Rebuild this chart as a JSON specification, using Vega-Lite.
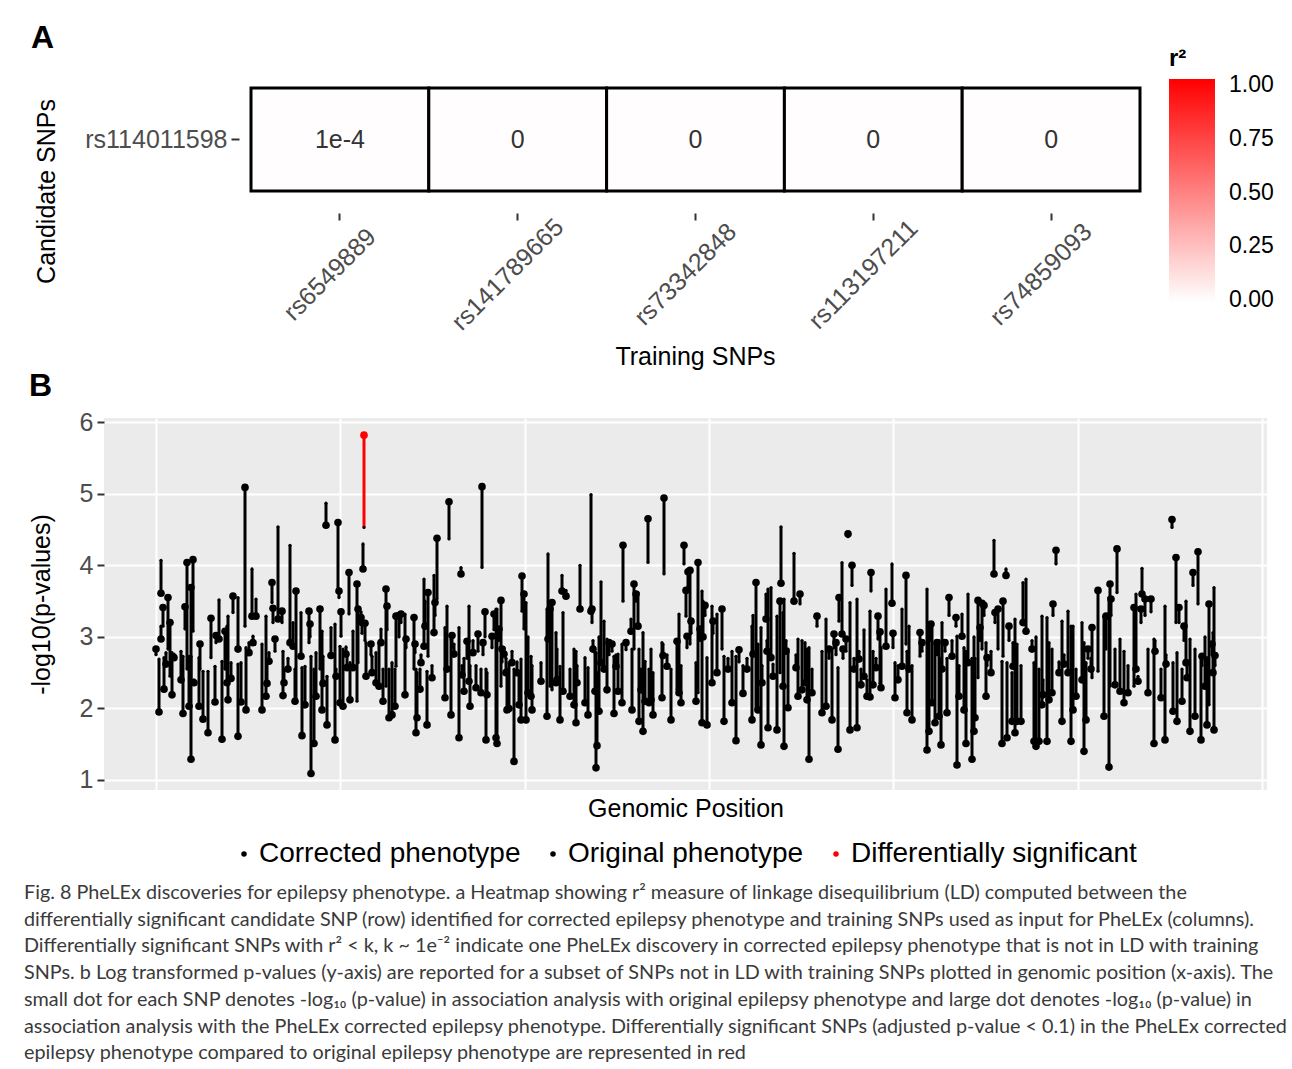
{
  "$schema": "https://vega.github.io/schema/vega-lite/v6.json",
  "background": "white",
  "padding": {"left": 24, "top": 22, "right": 5, "bottom": 0},
  "config": {
    "view": {"stroke": null},
    "font": "Liberation Sans",
    "axis": {"labelFont": "Liberation Sans", "titleFont": "Liberation Sans"},
    "legend": {"labelFont": "Liberation Sans", "titleFont": "Liberation Sans"}
  },
  "spacing": 0,
  "title": {
    "text": [
      "Fig. 8 PheLEx discoveries for epilepsy phenotype. a Heatmap showing r² measure of linkage disequilibrium (LD) computed between the",
      "differentially significant candidate SNP (row) identified for corrected epilepsy phenotype and training SNPs used as input for PheLEx (columns).",
      "Differentially significant SNPs with r² < k, k ~ 1e⁻² indicate one PheLEx discovery in corrected epilepsy phenotype that is not in LD with training",
      "SNPs. b Log transformed p-values (y-axis) are reported for a subset of SNPs not in LD with training SNPs plotted in genomic position (x-axis). The",
      "small dot for each SNP denotes -log₁₀ (p-value) in association analysis with original epilepsy phenotype and large dot denotes -log₁₀ (p-value) in",
      "association analysis with the PheLEx corrected epilepsy phenotype. Differentially significant SNPs (adjusted p-value < 0.1) in the PheLEx corrected",
      "epilepsy phenotype compared to original epilepsy phenotype are represented in red"
    ],
    "orient": "bottom",
    "anchor": "start",
    "frame": "bounds",
    "dx": -5,
    "offset": 15,
    "font": "Lato",
    "fontSize": 19.8,
    "fontWeight": "normal",
    "color": "#3a3a3a",
    "lineHeight": 26.7
  },
  "vconcat": [
    {
      "width": 1036,
      "height": 103,
      "title": {"text": "A", "anchor": "start", "frame": "group", "dx": -73, "offset": -8, "fontSize": 32, "fontWeight": "bold", "color": "black", "font": "Liberation Sans"},
      "data": {"values": [
        {"candidate": "rs114011598", "training": "rs6549889", "r2": 0.0001, "label": "1e-4"},
        {"candidate": "rs114011598", "training": "rs141789665", "r2": 0, "label": "0"},
        {"candidate": "rs114011598", "training": "rs73342848", "r2": 0, "label": "0"},
        {"candidate": "rs114011598", "training": "rs113197211", "r2": 0, "label": "0"},
        {"candidate": "rs114011598", "training": "rs74859093", "r2": 0, "label": "0"}
      ]},
      "encoding": {
        "x": {"field": "training", "type": "nominal", "sort": null,
          "scale": {"paddingInner": 0, "paddingOuter": 0.4134, "align": 1},
          "axis": {"title": "Training SNPs", "titleFontSize": 25, "titleFontWeight": "normal", "titleColor": "black", "titlePadding": 10, "titleX": 591,
            "labelAngle": -45, "labelAlign": "center", "labelBaseline": "middle", "labelFontSize": 25, "labelColor": "#4D4D4D", "labelPadding": 54, "labelOffset": -10,
            "offset": 22, "tickSize": 7, "tickWidth": 2, "tickColor": "#333333", "domain": false, "grid": false}},
        "y": {"field": "candidate", "type": "nominal",
          "scale": {"paddingInner": 0, "paddingOuter": 0},
          "axis": {"title": "Candidate SNPs", "titleFontSize": 25, "titleFontWeight": "normal", "titleColor": "black", "titlePadding": 25, "titleY": 103,
            "labelFontSize": 25, "labelColor": "#4D4D4D", "labelPadding": 4,
            "offset": -135, "tickSize": 8, "tickWidth": 2, "tickColor": "#333333", "domain": false, "grid": false}}
      },
      "layer": [
        {
          "mark": {"type": "rect", "stroke": "black", "strokeWidth": 3},
          "encoding": {
            "color": {"field": "r2", "type": "quantitative",
              "scale": {"domain": [-0.01, 1.03], "range": ["#FFFFFF", "#FF0000"], "interpolate": "rgb"},
              "legend": {"title": "r²", "orient": "none", "legendX": 1065, "legendY": -41, "direction": "vertical",
                "gradientLength": 223, "gradientThickness": 46, "gradientStrokeWidth": 0,
                "titleFontSize": 24, "titleFontWeight": "bold", "titleColor": "black", "titlePadding": 8, "titleAnchor": "start",
                "values": [0, 0.25, 0.5, 0.75, 1], "format": ".2f",
                "labelFontSize": 23, "labelColor": "black", "labelOffset": 14}}
          }
        },
        {
          "mark": {"type": "text", "fontSize": 25, "color": "#333333", "font": "Liberation Sans"},
          "encoding": {"text": {"field": "label"}}
        }
      ]
    },
    {
      "width": 1163,
      "height": 372,
      "view": {"fill": "#EBEBEB", "stroke": null},
      "title": {"text": "B", "anchor": "start", "frame": "group", "dx": -75, "offset": 7, "fontSize": 32, "fontWeight": "bold", "color": "black", "font": "Liberation Sans"},
      "data": {"values": [
{"pos":157,"orig":2.75,"corr":2.83,"type":"Corrected phenotype"},
{"pos":160,"orig":2.69,"corr":1.95,"type":"Corrected phenotype"},
{"pos":162,"orig":4.07,"corr":3.61,"type":"Corrected phenotype"},
{"pos":162,"orig":3.15,"corr":2.97,"type":"Corrected phenotype"},
{"pos":164,"orig":3.15,"corr":3.41,"type":"Corrected phenotype"},
{"pos":165,"orig":2.71,"corr":2.27,"type":"Corrected phenotype"},
{"pos":167,"orig":2.78,"corr":2.62,"type":"Corrected phenotype"},
{"pos":169,"orig":2.83,"corr":3.55,"type":"Corrected phenotype"},
{"pos":171,"orig":2.45,"corr":3.2,"type":"Corrected phenotype"},
{"pos":173,"orig":2.78,"corr":2.19,"type":"Corrected phenotype"},
{"pos":175,"orig":2.76,"corr":2.71,"type":"Corrected phenotype"},
{"pos":182,"orig":2.8,"corr":2.4,"type":"Corrected phenotype"},
{"pos":184,"orig":2.73,"corr":1.93,"type":"Corrected phenotype"},
{"pos":186,"orig":3.11,"corr":3.42,"type":"Corrected phenotype"},
{"pos":188,"orig":2.55,"corr":4.04,"type":"Corrected phenotype"},
{"pos":190,"orig":2.73,"corr":2.03,"type":"Corrected phenotype"},
{"pos":192,"orig":2.73,"corr":1.29,"type":"Corrected phenotype"},
{"pos":192,"orig":2.4,"corr":3.69,"type":"Corrected phenotype"},
{"pos":194,"orig":3.08,"corr":4.08,"type":"Corrected phenotype"},
{"pos":195,"orig":2.4,"corr":2.36,"type":"Corrected phenotype"},
{"pos":200,"orig":2.71,"corr":2.03,"type":"Corrected phenotype"},
{"pos":201,"orig":2.55,"corr":2.9,"type":"Corrected phenotype"},
{"pos":204,"orig":2.52,"corr":1.85,"type":"Corrected phenotype"},
{"pos":209,"orig":2.52,"corr":1.66,"type":"Corrected phenotype"},
{"pos":212,"orig":2.71,"corr":3.26,"type":"Corrected phenotype"},
{"pos":216,"orig":2.59,"corr":2.09,"type":"Corrected phenotype"},
{"pos":217,"orig":2.92,"corr":3.02,"type":"Corrected phenotype"},
{"pos":220,"orig":3.52,"corr":2.97,"type":"Corrected phenotype"},
{"pos":223,"orig":2.66,"corr":1.57,"type":"Corrected phenotype"},
{"pos":226,"orig":2.55,"corr":3.08,"type":"Corrected phenotype"},
{"pos":228,"orig":3.15,"corr":2.36,"type":"Corrected phenotype"},
{"pos":229,"orig":3.29,"corr":2.12,"type":"Corrected phenotype"},
{"pos":232,"orig":2.64,"corr":2.42,"type":"Corrected phenotype"},
{"pos":234,"orig":3.34,"corr":3.57,"type":"Corrected phenotype"},
{"pos":239,"orig":2.62,"corr":1.61,"type":"Corrected phenotype"},
{"pos":239,"orig":3.55,"corr":2.83,"type":"Corrected phenotype"},
{"pos":242,"orig":2.64,"corr":2.09,"type":"Corrected phenotype"},
{"pos":246,"orig":3.15,"corr":5.09,"type":"Corrected phenotype"},
{"pos":247,"orig":2.85,"corr":1.98,"type":"Corrected phenotype"},
{"pos":250,"orig":2.92,"corr":2.78,"type":"Corrected phenotype"},
{"pos":253,"orig":3.95,"corr":3.29,"type":"Corrected phenotype"},
{"pos":254,"orig":3.01,"corr":2.92,"type":"Corrected phenotype"},
{"pos":257,"orig":3.53,"corr":3.29,"type":"Corrected phenotype"},
{"pos":263,"orig":2.9,"corr":1.98,"type":"Corrected phenotype"},
{"pos":267,"orig":3.29,"corr":2.17,"type":"Corrected phenotype"},
{"pos":268,"orig":2.64,"corr":2.35,"type":"Corrected phenotype"},
{"pos":270,"orig":2.78,"corr":2.66,"type":"Corrected phenotype"},
{"pos":273,"orig":3.48,"corr":3.76,"type":"Corrected phenotype"},
{"pos":274,"orig":3.2,"corr":3.4,"type":"Corrected phenotype"},
{"pos":276,"orig":2.8,"corr":2.97,"type":"Corrected phenotype"},
{"pos":279,"orig":4.54,"corr":3.25,"type":"Corrected phenotype"},
{"pos":283,"orig":3.2,"corr":3.36,"type":"Corrected phenotype"},
{"pos":284,"orig":2.8,"corr":2.18,"type":"Corrected phenotype"},
{"pos":285,"orig":2.55,"corr":2.36,"type":"Corrected phenotype"},
{"pos":289,"orig":2.7,"corr":2.55,"type":"Corrected phenotype"},
{"pos":291,"orig":4.28,"corr":2.92,"type":"Corrected phenotype"},
{"pos":294,"orig":3.2,"corr":2.87,"type":"Corrected phenotype"},
{"pos":296,"orig":2.55,"corr":2.1,"type":"Corrected phenotype"},
{"pos":297,"orig":2.12,"corr":3.64,"type":"Corrected phenotype"},
{"pos":302,"orig":3.34,"corr":2.73,"type":"Corrected phenotype"},
{"pos":303,"orig":2.57,"corr":1.62,"type":"Corrected phenotype"},
{"pos":306,"orig":2.59,"corr":2.05,"type":"Corrected phenotype"},
{"pos":310,"orig":2.92,"corr":3.36,"type":"Corrected phenotype"},
{"pos":311,"orig":3.0,"corr":3.18,"type":"Corrected phenotype"},
{"pos":312,"orig":2.73,"corr":1.09,"type":"Corrected phenotype"},
{"pos":315,"orig":2.55,"corr":1.51,"type":"Corrected phenotype"},
{"pos":317,"orig":2.78,"corr":2.17,"type":"Corrected phenotype"},
{"pos":321,"orig":2.55,"corr":3.39,"type":"Corrected phenotype"},
{"pos":323,"orig":3.08,"corr":1.98,"type":"Corrected phenotype"},
{"pos":324,"orig":2.73,"corr":2.35,"type":"Corrected phenotype"},
{"pos":327,"orig":4.87,"corr":4.56,"type":"Corrected phenotype"},
{"pos":328,"orig":2.45,"corr":1.77,"type":"Corrected phenotype"},
{"pos":332,"orig":3.13,"corr":2.74,"type":"Corrected phenotype"},
{"pos":336,"orig":3.18,"corr":1.56,"type":"Corrected phenotype"},
{"pos":337,"orig":2.55,"corr":2.45,"type":"Corrected phenotype"},
{"pos":339,"orig":3.65,"corr":4.6,"type":"Corrected phenotype"},
{"pos":340,"orig":3.55,"corr":3.64,"type":"Corrected phenotype"},
{"pos":341,"orig":2.87,"corr":2.08,"type":"Corrected phenotype"},
{"pos":342,"orig":3.01,"corr":3.35,"type":"Corrected phenotype"},
{"pos":344,"orig":2.83,"corr":2.03,"type":"Corrected phenotype"},
{"pos":347,"orig":2.86,"corr":2.76,"type":"Corrected phenotype"},
{"pos":348,"orig":2.73,"corr":2.57,"type":"Corrected phenotype"},
{"pos":350,"orig":3.32,"corr":3.9,"type":"Corrected phenotype"},
{"pos":351,"orig":2.64,"corr":2.12,"type":"Corrected phenotype"},
{"pos":354,"orig":3.08,"corr":2.57,"type":"Corrected phenotype"},
{"pos":358,"orig":2.1,"corr":3.74,"type":"Corrected phenotype"},
{"pos":359,"orig":2.64,"corr":3.39,"type":"Corrected phenotype"},
{"pos":362,"orig":3.35,"corr":3.27,"type":"Corrected phenotype"},
{"pos":363,"orig":3.05,"corr":3.2,"type":"Corrected phenotype"},
{"pos":364,"orig":4.3,"corr":3.95,"type":"Corrected phenotype"},
{"pos":365,"orig":4.53,"corr":5.82,"type":"Differentially significant"},
{"pos":366,"orig":2.95,"corr":3.19,"type":"Corrected phenotype"},
{"pos":367,"orig":2.92,"corr":2.45,"type":"Corrected phenotype"},
{"pos":372,"orig":2.75,"corr":2.9,"type":"Corrected phenotype"},
{"pos":373,"orig":2.73,"corr":2.5,"type":"Corrected phenotype"},
{"pos":377,"orig":2.78,"corr":2.36,"type":"Corrected phenotype"},
{"pos":380,"orig":2.92,"corr":2.31,"type":"Corrected phenotype"},
{"pos":382,"orig":3.11,"corr":2.92,"type":"Corrected phenotype"},
{"pos":384,"orig":2.55,"corr":2.1,"type":"Corrected phenotype"},
{"pos":387,"orig":2.31,"corr":3.67,"type":"Corrected phenotype"},
{"pos":388,"orig":3.1,"corr":3.43,"type":"Corrected phenotype"},
{"pos":390,"orig":2.55,"corr":1.87,"type":"Corrected phenotype"},
{"pos":393,"orig":2.64,"corr":1.91,"type":"Corrected phenotype"},
{"pos":396,"orig":2.55,"corr":2.03,"type":"Corrected phenotype"},
{"pos":397,"orig":2.59,"corr":3.29,"type":"Corrected phenotype"},
{"pos":400,"orig":3.0,"corr":3.3,"type":"Corrected phenotype"},
{"pos":402,"orig":3.2,"corr":3.32,"type":"Corrected phenotype"},
{"pos":406,"orig":3.32,"corr":2.19,"type":"Corrected phenotype"},
{"pos":407,"orig":2.85,"corr":2.97,"type":"Corrected phenotype"},
{"pos":415,"orig":2.55,"corr":3.27,"type":"Corrected phenotype"},
{"pos":416,"orig":2.78,"corr":2.9,"type":"Corrected phenotype"},
{"pos":417,"orig":2.55,"corr":1.66,"type":"Corrected phenotype"},
{"pos":418,"orig":2.5,"corr":1.87,"type":"Corrected phenotype"},
{"pos":421,"orig":2.55,"corr":2.27,"type":"Corrected phenotype"},
{"pos":422,"orig":2.75,"corr":2.64,"type":"Corrected phenotype"},
{"pos":425,"orig":3.81,"corr":2.87,"type":"Corrected phenotype"},
{"pos":426,"orig":3.5,"corr":3.15,"type":"Corrected phenotype"},
{"pos":428,"orig":2.52,"corr":1.77,"type":"Corrected phenotype"},
{"pos":429,"orig":2.73,"corr":3.62,"type":"Corrected phenotype"},
{"pos":433,"orig":2.6,"corr":2.43,"type":"Corrected phenotype"},
{"pos":435,"orig":3.86,"corr":3.06,"type":"Corrected phenotype"},
{"pos":436,"orig":3.3,"corr":3.48,"type":"Corrected phenotype"},
{"pos":438,"orig":3.53,"corr":4.38,"type":"Corrected phenotype"},
{"pos":446,"orig":3.13,"corr":2.15,"type":"Corrected phenotype"},
{"pos":448,"orig":3.43,"corr":2.55,"type":"Corrected phenotype"},
{"pos":450,"orig":4.37,"corr":4.89,"type":"Corrected phenotype"},
{"pos":452,"orig":2.97,"corr":1.91,"type":"Corrected phenotype"},
{"pos":453,"orig":2.85,"corr":3.02,"type":"Corrected phenotype"},
{"pos":455,"orig":2.9,"corr":2.76,"type":"Corrected phenotype"},
{"pos":460,"orig":3.13,"corr":1.59,"type":"Corrected phenotype"},
{"pos":462,"orig":3.97,"corr":3.88,"type":"Corrected phenotype"},
{"pos":463,"orig":2.6,"corr":2.47,"type":"Corrected phenotype"},
{"pos":465,"orig":2.7,"corr":2.24,"type":"Corrected phenotype"},
{"pos":468,"orig":2.7,"corr":2.94,"type":"Corrected phenotype"},
{"pos":470,"orig":3.43,"corr":2.38,"type":"Corrected phenotype"},
{"pos":471,"orig":2.6,"corr":2.03,"type":"Corrected phenotype"},
{"pos":474,"orig":2.95,"corr":2.78,"type":"Corrected phenotype"},
{"pos":477,"orig":2.6,"corr":2.29,"type":"Corrected phenotype"},
{"pos":479,"orig":2.8,"corr":3.04,"type":"Corrected phenotype"},
{"pos":482,"orig":2.55,"corr":2.22,"type":"Corrected phenotype"},
{"pos":483,"orig":3.97,"corr":5.1,"type":"Corrected phenotype"},
{"pos":484,"orig":2.75,"corr":2.92,"type":"Corrected phenotype"},
{"pos":486,"orig":3.0,"corr":3.35,"type":"Corrected phenotype"},
{"pos":487,"orig":2.55,"corr":1.56,"type":"Corrected phenotype"},
{"pos":488,"orig":2.5,"corr":2.19,"type":"Corrected phenotype"},
{"pos":493,"orig":2.85,"corr":3.01,"type":"Corrected phenotype"},
{"pos":495,"orig":3.1,"corr":3.32,"type":"Corrected phenotype"},
{"pos":497,"orig":3.39,"corr":1.59,"type":"Corrected phenotype"},
{"pos":498,"orig":3.39,"corr":1.51,"type":"Corrected phenotype"},
{"pos":500,"orig":2.95,"corr":3.11,"type":"Corrected phenotype"},
{"pos":502,"orig":2.31,"corr":3.51,"type":"Corrected phenotype"},
{"pos":503,"orig":2.65,"corr":2.83,"type":"Corrected phenotype"},
{"pos":505,"orig":2.85,"corr":2.76,"type":"Corrected phenotype"},
{"pos":507,"orig":2.7,"corr":2.5,"type":"Corrected phenotype"},
{"pos":508,"orig":2.55,"corr":1.98,"type":"Corrected phenotype"},
{"pos":510,"orig":2.64,"corr":2.0,"type":"Corrected phenotype"},
{"pos":513,"orig":2.8,"corr":2.64,"type":"Corrected phenotype"},
{"pos":515,"orig":2.55,"corr":1.26,"type":"Corrected phenotype"},
{"pos":518,"orig":2.65,"corr":2.5,"type":"Corrected phenotype"},
{"pos":520,"orig":2.5,"corr":2.05,"type":"Corrected phenotype"},
{"pos":522,"orig":2.69,"corr":1.84,"type":"Corrected phenotype"},
{"pos":523,"orig":3.36,"corr":3.85,"type":"Corrected phenotype"},
{"pos":525,"orig":3.11,"corr":3.6,"type":"Corrected phenotype"},
{"pos":527,"orig":3.48,"corr":1.84,"type":"Corrected phenotype"},
{"pos":529,"orig":3.0,"corr":2.22,"type":"Corrected phenotype"},
{"pos":532,"orig":2.73,"corr":2.17,"type":"Corrected phenotype"},
{"pos":533,"orig":2.6,"corr":1.98,"type":"Corrected phenotype"},
{"pos":542,"orig":2.64,"corr":2.38,"type":"Corrected phenotype"},
{"pos":548,"orig":3.39,"corr":1.89,"type":"Corrected phenotype"},
{"pos":549,"orig":4.16,"corr":2.97,"type":"Corrected phenotype"},
{"pos":551,"orig":2.31,"corr":3.39,"type":"Corrected phenotype"},
{"pos":553,"orig":2.26,"corr":3.48,"type":"Corrected phenotype"},
{"pos":557,"orig":3.06,"corr":2.36,"type":"Corrected phenotype"},
{"pos":558,"orig":2.83,"corr":2.4,"type":"Corrected phenotype"},
{"pos":561,"orig":2.59,"corr":1.84,"type":"Corrected phenotype"},
{"pos":563,"orig":3.86,"corr":3.64,"type":"Corrected phenotype"},
{"pos":564,"orig":3.34,"corr":2.24,"type":"Corrected phenotype"},
{"pos":567,"orig":3.65,"corr":3.57,"type":"Corrected phenotype"},
{"pos":571,"orig":2.55,"corr":2.17,"type":"Corrected phenotype"},
{"pos":575,"orig":2.83,"corr":2.05,"type":"Corrected phenotype"},
{"pos":577,"orig":2.8,"corr":1.8,"type":"Corrected phenotype"},
{"pos":578,"orig":2.6,"corr":2.36,"type":"Corrected phenotype"},
{"pos":581,"orig":4.0,"corr":3.39,"type":"Corrected phenotype"},
{"pos":586,"orig":2.71,"corr":2.08,"type":"Corrected phenotype"},
{"pos":589,"orig":2.57,"corr":1.91,"type":"Corrected phenotype"},
{"pos":592,"orig":4.99,"corr":3.36,"type":"Corrected phenotype"},
{"pos":593,"orig":3.2,"corr":3.39,"type":"Corrected phenotype"},
{"pos":594,"orig":2.95,"corr":2.83,"type":"Corrected phenotype"},
{"pos":596,"orig":2.78,"corr":2.24,"type":"Corrected phenotype"},
{"pos":597,"orig":2.78,"corr":1.17,"type":"Corrected phenotype"},
{"pos":598,"orig":2.5,"corr":1.48,"type":"Corrected phenotype"},
{"pos":600,"orig":3.0,"corr":1.96,"type":"Corrected phenotype"},
{"pos":602,"orig":3.77,"corr":2.64,"type":"Corrected phenotype"},
{"pos":605,"orig":3.22,"corr":2.55,"type":"Corrected phenotype"},
{"pos":608,"orig":2.97,"corr":2.26,"type":"Corrected phenotype"},
{"pos":610,"orig":2.75,"corr":2.92,"type":"Corrected phenotype"},
{"pos":613,"orig":2.8,"corr":2.9,"type":"Corrected phenotype"},
{"pos":615,"orig":2.73,"corr":1.93,"type":"Corrected phenotype"},
{"pos":617,"orig":2.75,"corr":2.59,"type":"Corrected phenotype"},
{"pos":619,"orig":2.76,"corr":2.24,"type":"Corrected phenotype"},
{"pos":623,"orig":2.9,"corr":2.08,"type":"Corrected phenotype"},
{"pos":624,"orig":3.5,"corr":4.28,"type":"Corrected phenotype"},
{"pos":627,"orig":2.82,"corr":2.92,"type":"Corrected phenotype"},
{"pos":632,"orig":3.25,"corr":3.08,"type":"Corrected phenotype"},
{"pos":633,"orig":2.83,"corr":1.98,"type":"Corrected phenotype"},
{"pos":635,"orig":2.83,"corr":3.74,"type":"Corrected phenotype"},
{"pos":637,"orig":3.5,"corr":3.6,"type":"Corrected phenotype"},
{"pos":639,"orig":3.62,"corr":3.15,"type":"Corrected phenotype"},
{"pos":640,"orig":2.83,"corr":1.82,"type":"Corrected phenotype"},
{"pos":642,"orig":2.55,"corr":2.26,"type":"Corrected phenotype"},
{"pos":644,"orig":3.06,"corr":1.68,"type":"Corrected phenotype"},
{"pos":646,"orig":2.66,"corr":2.1,"type":"Corrected phenotype"},
{"pos":649,"orig":4.04,"corr":4.65,"type":"Corrected phenotype"},
{"pos":650,"orig":2.55,"corr":2.08,"type":"Corrected phenotype"},
{"pos":652,"orig":2.83,"corr":2.12,"type":"Corrected phenotype"},
{"pos":654,"orig":2.5,"corr":1.91,"type":"Corrected phenotype"},
{"pos":663,"orig":2.92,"corr":2.15,"type":"Corrected phenotype"},
{"pos":664,"orig":2.9,"corr":2.74,"type":"Corrected phenotype"},
{"pos":665,"orig":3.88,"corr":4.94,"type":"Corrected phenotype"},
{"pos":668,"orig":2.75,"corr":2.59,"type":"Corrected phenotype"},
{"pos":672,"orig":2.55,"corr":1.84,"type":"Corrected phenotype"},
{"pos":678,"orig":2.26,"corr":2.94,"type":"Corrected phenotype"},
{"pos":680,"orig":3.32,"corr":2.22,"type":"Corrected phenotype"},
{"pos":682,"orig":2.6,"corr":2.08,"type":"Corrected phenotype"},
{"pos":685,"orig":4.02,"corr":4.28,"type":"Corrected phenotype"},
{"pos":687,"orig":3.29,"corr":3.65,"type":"Corrected phenotype"},
{"pos":688,"orig":2.85,"corr":3.01,"type":"Corrected phenotype"},
{"pos":689,"orig":3.7,"corr":3.91,"type":"Corrected phenotype"},
{"pos":691,"orig":2.9,"corr":3.93,"type":"Corrected phenotype"},
{"pos":692,"orig":3.05,"corr":3.22,"type":"Corrected phenotype"},
{"pos":697,"orig":2.64,"corr":2.1,"type":"Corrected phenotype"},
{"pos":699,"orig":2.22,"corr":4.04,"type":"Corrected phenotype"},
{"pos":701,"orig":2.95,"corr":3.11,"type":"Corrected phenotype"},
{"pos":703,"orig":3.64,"corr":1.8,"type":"Corrected phenotype"},
{"pos":704,"orig":3.5,"corr":3.0,"type":"Corrected phenotype"},
{"pos":706,"orig":3.3,"corr":3.44,"type":"Corrected phenotype"},
{"pos":708,"orig":2.71,"corr":1.77,"type":"Corrected phenotype"},
{"pos":713,"orig":3.43,"corr":2.36,"type":"Corrected phenotype"},
{"pos":714,"orig":3.05,"corr":3.22,"type":"Corrected phenotype"},
{"pos":718,"orig":3.32,"corr":2.5,"type":"Corrected phenotype"},
{"pos":723,"orig":2.83,"corr":3.39,"type":"Corrected phenotype"},
{"pos":725,"orig":2.73,"corr":1.82,"type":"Corrected phenotype"},
{"pos":729,"orig":2.7,"corr":2.55,"type":"Corrected phenotype"},
{"pos":733,"orig":2.8,"corr":2.08,"type":"Corrected phenotype"},
{"pos":737,"orig":2.73,"corr":1.55,"type":"Corrected phenotype"},
{"pos":740,"orig":2.65,"corr":2.82,"type":"Corrected phenotype"},
{"pos":744,"orig":2.6,"corr":2.21,"type":"Corrected phenotype"},
{"pos":748,"orig":2.7,"corr":2.55,"type":"Corrected phenotype"},
{"pos":753,"orig":3.15,"corr":1.84,"type":"Corrected phenotype"},
{"pos":754,"orig":3.3,"corr":2.76,"type":"Corrected phenotype"},
{"pos":757,"orig":1.98,"corr":3.76,"type":"Corrected phenotype"},
{"pos":759,"orig":2.9,"corr":1.98,"type":"Corrected phenotype"},
{"pos":762,"orig":3.13,"corr":1.49,"type":"Corrected phenotype"},
{"pos":763,"orig":2.6,"corr":2.36,"type":"Corrected phenotype"},
{"pos":767,"orig":3.6,"corr":3.25,"type":"Corrected phenotype"},
{"pos":768,"orig":2.95,"corr":2.8,"type":"Corrected phenotype"},
{"pos":769,"orig":3.67,"corr":1.73,"type":"Corrected phenotype"},
{"pos":772,"orig":3.69,"corr":2.71,"type":"Corrected phenotype"},
{"pos":774,"orig":2.62,"corr":2.45,"type":"Corrected phenotype"},
{"pos":778,"orig":3.29,"corr":1.7,"type":"Corrected phenotype"},
{"pos":781,"orig":2.5,"corr":3.5,"type":"Corrected phenotype"},
{"pos":782,"orig":4.54,"corr":3.75,"type":"Corrected phenotype"},
{"pos":784,"orig":3.34,"corr":2.31,"type":"Corrected phenotype"},
{"pos":785,"orig":3.53,"corr":1.47,"type":"Corrected phenotype"},
{"pos":787,"orig":2.95,"corr":2.8,"type":"Corrected phenotype"},
{"pos":789,"orig":2.83,"corr":2.01,"type":"Corrected phenotype"},
{"pos":795,"orig":4.17,"corr":3.5,"type":"Corrected phenotype"},
{"pos":797,"orig":2.75,"corr":2.57,"type":"Corrected phenotype"},
{"pos":799,"orig":2.97,"corr":2.17,"type":"Corrected phenotype"},
{"pos":801,"orig":3.46,"corr":3.6,"type":"Corrected phenotype"},
{"pos":803,"orig":2.95,"corr":2.26,"type":"Corrected phenotype"},
{"pos":806,"orig":2.92,"corr":2.36,"type":"Corrected phenotype"},
{"pos":808,"orig":2.83,"corr":2.12,"type":"Corrected phenotype"},
{"pos":810,"orig":2.85,"corr":1.29,"type":"Corrected phenotype"},
{"pos":813,"orig":2.55,"corr":2.22,"type":"Corrected phenotype"},
{"pos":818,"orig":3.15,"corr":3.29,"type":"Corrected phenotype"},
{"pos":823,"orig":2.8,"corr":1.94,"type":"Corrected phenotype"},
{"pos":827,"orig":3.25,"corr":2.03,"type":"Corrected phenotype"},
{"pos":830,"orig":2.7,"corr":2.83,"type":"Corrected phenotype"},
{"pos":833,"orig":2.83,"corr":1.84,"type":"Corrected phenotype"},
{"pos":835,"orig":2.85,"corr":3.04,"type":"Corrected phenotype"},
{"pos":837,"orig":2.75,"corr":2.92,"type":"Corrected phenotype"},
{"pos":839,"orig":2.57,"corr":1.43,"type":"Corrected phenotype"},
{"pos":840,"orig":3.22,"corr":3.55,"type":"Corrected phenotype"},
{"pos":843,"orig":4.04,"corr":3.04,"type":"Corrected phenotype"},
{"pos":844,"orig":2.7,"corr":2.83,"type":"Corrected phenotype"},
{"pos":847,"orig":2.8,"corr":2.97,"type":"Corrected phenotype"},
{"pos":849,"orig":4.4,"corr":4.44,"type":"Corrected phenotype"},
{"pos":851,"orig":3.48,"corr":1.7,"type":"Corrected phenotype"},
{"pos":853,"orig":3.72,"corr":4.0,"type":"Corrected phenotype"},
{"pos":855,"orig":2.7,"corr":2.55,"type":"Corrected phenotype"},
{"pos":858,"orig":3.53,"corr":1.73,"type":"Corrected phenotype"},
{"pos":860,"orig":2.8,"corr":2.69,"type":"Corrected phenotype"},
{"pos":862,"orig":2.55,"corr":2.33,"type":"Corrected phenotype"},
{"pos":865,"orig":3.1,"corr":2.45,"type":"Corrected phenotype"},
{"pos":868,"orig":2.4,"corr":2.17,"type":"Corrected phenotype"},
{"pos":871,"orig":3.36,"corr":2.16,"type":"Corrected phenotype"},
{"pos":872,"orig":3.64,"corr":3.9,"type":"Corrected phenotype"},
{"pos":874,"orig":2.8,"corr":2.33,"type":"Corrected phenotype"},
{"pos":877,"orig":2.7,"corr":2.57,"type":"Corrected phenotype"},
{"pos":879,"orig":2.97,"corr":3.29,"type":"Corrected phenotype"},
{"pos":881,"orig":2.35,"corr":3.07,"type":"Corrected phenotype"},
{"pos":882,"orig":2.85,"corr":2.29,"type":"Corrected phenotype"},
{"pos":887,"orig":3.67,"corr":2.87,"type":"Corrected phenotype"},
{"pos":893,"orig":4.02,"corr":3.47,"type":"Corrected phenotype"},
{"pos":894,"orig":2.85,"corr":3.05,"type":"Corrected phenotype"},
{"pos":896,"orig":2.64,"corr":2.15,"type":"Corrected phenotype"},
{"pos":899,"orig":2.6,"corr":2.4,"type":"Corrected phenotype"},
{"pos":903,"orig":3.39,"corr":2.59,"type":"Corrected phenotype"},
{"pos":907,"orig":2.9,"corr":3.86,"type":"Corrected phenotype"},
{"pos":908,"orig":2.8,"corr":1.94,"type":"Corrected phenotype"},
{"pos":910,"orig":3.15,"corr":2.55,"type":"Corrected phenotype"},
{"pos":913,"orig":2.6,"corr":1.84,"type":"Corrected phenotype"},
{"pos":921,"orig":2.73,"corr":3.06,"type":"Corrected phenotype"},
{"pos":923,"orig":2.8,"corr":2.92,"type":"Corrected phenotype"},
{"pos":928,"orig":3.67,"corr":1.42,"type":"Corrected phenotype"},
{"pos":930,"orig":3.15,"corr":1.68,"type":"Corrected phenotype"},
{"pos":932,"orig":2.95,"corr":3.18,"type":"Corrected phenotype"},
{"pos":933,"orig":3.2,"corr":2.08,"type":"Corrected phenotype"},
{"pos":936,"orig":2.9,"corr":1.8,"type":"Corrected phenotype"},
{"pos":938,"orig":2.75,"corr":2.92,"type":"Corrected phenotype"},
{"pos":940,"orig":2.95,"corr":1.89,"type":"Corrected phenotype"},
{"pos":942,"orig":2.7,"corr":1.49,"type":"Corrected phenotype"},
{"pos":943,"orig":3.2,"corr":2.55,"type":"Corrected phenotype"},
{"pos":946,"orig":2.8,"corr":2.92,"type":"Corrected phenotype"},
{"pos":948,"orig":2.7,"corr":1.94,"type":"Corrected phenotype"},
{"pos":950,"orig":3.3,"corr":3.55,"type":"Corrected phenotype"},
{"pos":953,"orig":2.95,"corr":2.73,"type":"Corrected phenotype"},
{"pos":957,"orig":3.15,"corr":3.27,"type":"Corrected phenotype"},
{"pos":958,"orig":3.01,"corr":1.21,"type":"Corrected phenotype"},
{"pos":960,"orig":2.6,"corr":2.17,"type":"Corrected phenotype"},
{"pos":963,"orig":3.32,"corr":3.01,"type":"Corrected phenotype"},
{"pos":965,"orig":2.85,"corr":1.98,"type":"Corrected phenotype"},
{"pos":967,"orig":2.8,"corr":1.51,"type":"Corrected phenotype"},
{"pos":969,"orig":3.6,"corr":2.64,"type":"Corrected phenotype"},
{"pos":973,"orig":2.7,"corr":1.29,"type":"Corrected phenotype"},
{"pos":975,"orig":3.0,"corr":1.68,"type":"Corrected phenotype"},
{"pos":976,"orig":2.7,"corr":1.87,"type":"Corrected phenotype"},
{"pos":979,"orig":2.43,"corr":3.51,"type":"Corrected phenotype"},
{"pos":981,"orig":2.95,"corr":3.13,"type":"Corrected phenotype"},
{"pos":983,"orig":2.83,"corr":3.47,"type":"Corrected phenotype"},
{"pos":985,"orig":3.3,"corr":3.44,"type":"Corrected phenotype"},
{"pos":987,"orig":2.92,"corr":2.17,"type":"Corrected phenotype"},
{"pos":988,"orig":2.6,"corr":2.71,"type":"Corrected phenotype"},
{"pos":992,"orig":2.8,"corr":2.5,"type":"Corrected phenotype"},
{"pos":995,"orig":4.35,"corr":3.88,"type":"Corrected phenotype"},
{"pos":996,"orig":3.2,"corr":3.34,"type":"Corrected phenotype"},
{"pos":999,"orig":2.83,"corr":3.39,"type":"Corrected phenotype"},
{"pos":1003,"orig":2.66,"corr":1.51,"type":"Corrected phenotype"},
{"pos":1004,"orig":2.73,"corr":3.5,"type":"Corrected phenotype"},
{"pos":1007,"orig":3.95,"corr":3.86,"type":"Corrected phenotype"},
{"pos":1008,"orig":2.64,"corr":1.59,"type":"Corrected phenotype"},
{"pos":1010,"orig":2.95,"corr":3.15,"type":"Corrected phenotype"},
{"pos":1013,"orig":2.5,"corr":1.82,"type":"Corrected phenotype"},
{"pos":1014,"orig":2.92,"corr":2.59,"type":"Corrected phenotype"},
{"pos":1016,"orig":3.25,"corr":1.66,"type":"Corrected phenotype"},
{"pos":1018,"orig":2.9,"corr":1.82,"type":"Corrected phenotype"},
{"pos":1022,"orig":2.6,"corr":1.82,"type":"Corrected phenotype"},
{"pos":1024,"orig":3.76,"corr":3.2,"type":"Corrected phenotype"},
{"pos":1027,"orig":3.81,"corr":3.08,"type":"Corrected phenotype"},
{"pos":1033,"orig":2.95,"corr":2.83,"type":"Corrected phenotype"},
{"pos":1035,"orig":2.64,"corr":1.54,"type":"Corrected phenotype"},
{"pos":1037,"orig":3.0,"corr":1.47,"type":"Corrected phenotype"},
{"pos":1040,"orig":2.55,"corr":1.54,"type":"Corrected phenotype"},
{"pos":1043,"orig":3.29,"corr":2.05,"type":"Corrected phenotype"},
{"pos":1044,"orig":2.4,"corr":2.19,"type":"Corrected phenotype"},
{"pos":1048,"orig":3.27,"corr":1.54,"type":"Corrected phenotype"},
{"pos":1050,"orig":2.92,"corr":2.12,"type":"Corrected phenotype"},
{"pos":1053,"orig":2.83,"corr":2.22,"type":"Corrected phenotype"},
{"pos":1054,"orig":3.3,"corr":3.46,"type":"Corrected phenotype"},
{"pos":1057,"orig":4.02,"corr":4.21,"type":"Corrected phenotype"},
{"pos":1060,"orig":2.65,"corr":2.5,"type":"Corrected phenotype"},
{"pos":1063,"orig":3.22,"corr":1.82,"type":"Corrected phenotype"},
{"pos":1065,"orig":2.75,"corr":2.62,"type":"Corrected phenotype"},
{"pos":1069,"orig":3.36,"corr":2.5,"type":"Corrected phenotype"},
{"pos":1072,"orig":3.15,"corr":1.54,"type":"Corrected phenotype"},
{"pos":1074,"orig":3.15,"corr":1.98,"type":"Corrected phenotype"},
{"pos":1077,"orig":2.55,"corr":2.17,"type":"Corrected phenotype"},
{"pos":1083,"orig":3.2,"corr":2.4,"type":"Corrected phenotype"},
{"pos":1085,"orig":2.92,"corr":1.4,"type":"Corrected phenotype"},
{"pos":1087,"orig":2.64,"corr":1.84,"type":"Corrected phenotype"},
{"pos":1089,"orig":2.7,"corr":2.83,"type":"Corrected phenotype"},
{"pos":1092,"orig":2.7,"corr":2.55,"type":"Corrected phenotype"},
{"pos":1093,"orig":2.43,"corr":3.13,"type":"Corrected phenotype"},
{"pos":1099,"orig":2.52,"corr":3.65,"type":"Corrected phenotype"},
{"pos":1105,"orig":3.29,"corr":1.89,"type":"Corrected phenotype"},
{"pos":1107,"orig":2.83,"corr":3.29,"type":"Corrected phenotype"},
{"pos":1110,"orig":3.55,"corr":1.18,"type":"Corrected phenotype"},
{"pos":1111,"orig":2.31,"corr":3.74,"type":"Corrected phenotype"},
{"pos":1112,"orig":3.3,"corr":3.53,"type":"Corrected phenotype"},
{"pos":1116,"orig":2.83,"corr":2.33,"type":"Corrected phenotype"},
{"pos":1118,"orig":3.62,"corr":4.23,"type":"Corrected phenotype"},
{"pos":1121,"orig":2.97,"corr":2.24,"type":"Corrected phenotype"},
{"pos":1125,"orig":2.8,"corr":2.08,"type":"Corrected phenotype"},
{"pos":1129,"orig":2.6,"corr":2.22,"type":"Corrected phenotype"},
{"pos":1135,"orig":2.31,"corr":3.41,"type":"Corrected phenotype"},
{"pos":1137,"orig":3.6,"corr":2.55,"type":"Corrected phenotype"},
{"pos":1139,"orig":2.45,"corr":2.38,"type":"Corrected phenotype"},
{"pos":1142,"orig":3.2,"corr":3.39,"type":"Corrected phenotype"},
{"pos":1143,"orig":3.96,"corr":3.6,"type":"Corrected phenotype"},
{"pos":1146,"orig":3.3,"corr":3.53,"type":"Corrected phenotype"},
{"pos":1149,"orig":2.83,"corr":2.22,"type":"Corrected phenotype"},
{"pos":1152,"orig":3.35,"corr":3.53,"type":"Corrected phenotype"},
{"pos":1155,"orig":2.97,"corr":1.51,"type":"Corrected phenotype"},
{"pos":1156,"orig":2.95,"corr":2.8,"type":"Corrected phenotype"},
{"pos":1162,"orig":2.55,"corr":2.15,"type":"Corrected phenotype"},
{"pos":1166,"orig":3.43,"corr":1.56,"type":"Corrected phenotype"},
{"pos":1167,"orig":2.75,"corr":2.62,"type":"Corrected phenotype"},
{"pos":1173,"orig":4.53,"corr":4.64,"type":"Corrected phenotype"},
{"pos":1174,"orig":2.64,"corr":1.96,"type":"Corrected phenotype"},
{"pos":1177,"orig":3.2,"corr":4.11,"type":"Corrected phenotype"},
{"pos":1178,"orig":2.78,"corr":1.82,"type":"Corrected phenotype"},
{"pos":1180,"orig":3.2,"corr":3.41,"type":"Corrected phenotype"},
{"pos":1183,"orig":2.55,"corr":2.1,"type":"Corrected phenotype"},
{"pos":1185,"orig":2.95,"corr":3.15,"type":"Corrected phenotype"},
{"pos":1187,"orig":3.5,"corr":2.64,"type":"Corrected phenotype"},
{"pos":1188,"orig":2.6,"corr":2.43,"type":"Corrected phenotype"},
{"pos":1191,"orig":2.97,"corr":1.68,"type":"Corrected phenotype"},
{"pos":1194,"orig":3.72,"corr":3.9,"type":"Corrected phenotype"},
{"pos":1196,"orig":2.83,"corr":1.89,"type":"Corrected phenotype"},
{"pos":1199,"orig":3.46,"corr":4.19,"type":"Corrected phenotype"},
{"pos":1202,"orig":2.73,"corr":1.56,"type":"Corrected phenotype"},
{"pos":1203,"orig":2.6,"corr":2.73,"type":"Corrected phenotype"},
{"pos":1206,"orig":3.0,"corr":2.31,"type":"Corrected phenotype"},
{"pos":1208,"orig":2.71,"corr":1.77,"type":"Corrected phenotype"},
{"pos":1210,"orig":2.05,"corr":3.46,"type":"Corrected phenotype"},
{"pos":1213,"orig":2.75,"corr":2.9,"type":"Corrected phenotype"},
{"pos":1214,"orig":3.06,"corr":2.5,"type":"Corrected phenotype"},
{"pos":1215,"orig":3.69,"corr":1.7,"type":"Corrected phenotype"},
{"pos":1216,"orig":2.6,"corr":2.74,"type":"Corrected phenotype"}
      ]},
      "encoding": {
        "x": {"field": "pos", "type": "quantitative",
          "scale": {"domain": [105, 1268], "nice": false, "zero": false},
          "axis": {"title": "Genomic Position", "titleFontSize": 25, "titleFontWeight": "normal", "titleColor": "black", "titlePadding": 6,
            "values": [157, 341.3, 525.6, 709.9, 894.2, 1078.5, 1262.8], "labels": false, "ticks": false, "domain": false,
            "grid": true, "gridColor": "white", "gridWidth": 2}}
      },
      "layer": [
        {
          "mark": {"type": "rule", "strokeWidth": 3},
          "encoding": {
            "y": {"field": "orig", "type": "quantitative",
              "scale": {"domain": [0.86, 6.06], "nice": false, "zero": false},
              "axis": {"title": "-log10(p-values)", "titleFontSize": 25, "titleFontWeight": "normal", "titleColor": "black", "titlePadding": 25,
                "values": [1, 1.5, 2, 2.5, 3, 3.5, 4, 4.5, 5, 5.5, 6],
                "labelExpr": "datum.value % 1 === 0 ? format(datum.value, 'd') : ''",
                "labelFontSize": 25, "labelColor": "#4D4D4D", "labelPadding": 4,
                "tickSize": 7, "tickWidth": 2, "tickColor": "#333333",
                "tickOpacity": {"condition": {"test": "datum.value % 1 === 0", "value": 1}, "value": 0},
                "domain": false, "grid": true, "gridColor": "white",
                "gridWidth": {"condition": {"test": "datum.value % 1 === 0", "value": 2}, "value": 1}}},
            "y2": {"field": "corr"},
            "color": {"condition": {"test": "datum.type === 'Differentially significant'", "value": "#FF0000"}, "value": "black"}
          }
        },
        {
          "mark": {"type": "point", "filled": true, "opacity": 1, "size": 10},
          "encoding": {
            "y": {"field": "orig", "type": "quantitative"},
            "color": {"datum": "Original phenotype", "type": "nominal"}
          }
        },
        {
          "mark": {"type": "point", "filled": true, "opacity": 1, "size": 58},
          "encoding": {
            "y": {"field": "corr", "type": "quantitative"},
            "color": {"field": "type", "type": "nominal",
              "scale": {"domain": ["Corrected phenotype", "Original phenotype", "Differentially significant"], "range": ["black", "black", "#FF0000"]},
              "legend": {"title": null, "orient": "none", "legendX": 126, "legendY": 422, "direction": "horizontal",
                "symbolType": "circle", "symbolSize": 30, "symbolStrokeWidth": 0, "labelLimit": 0,
                "labelFontSize": 28, "labelColor": "black", "labelOffset": 1, "columnPadding": 18}}
          }
        }
      ]
    }
  ]
}
